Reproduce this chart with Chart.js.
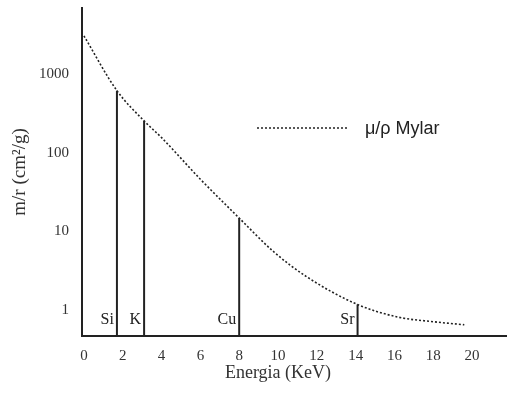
<!DOCTYPE html>
<html>
<head>
<meta charset="utf-8">
<script src="https://cdn.jsdelivr.net/npm/chart.js@4/dist/chart.umd.min.js"></script>
<style>
  html, body { margin: 0; padding: 0; background: #fff; }
  #wrap { width: 507px; height: 395px; position: relative; }
</style>
</head>
<body>
<div id="wrap"><canvas id="muChart"></canvas></div>
<script>
// mass attenuation of Mylar vs energy
const energy = [0, 1.7, 3.1, 4, 6, 8, 9.8, 11.5, 14.1, 16.2, 18, 19.6];
const muRho = [3100, 620, 255, 156, 46, 14.7, 5.4, 2.6, 1.16, 0.80, 0.70, 0.64];

// emission lines
const elements = ['Si', 'K', 'Cu', 'Sr'];
const lineEnergy = [1.7, 3.1, 8.0, 14.1];
const lineTop = [620, 255, 14.7, 1.16];

const xTicks = [0, 2, 4, 6, 8, 10, 12, 14, 16, 18, 20];
const yTicks = [1, 10, 100, 1000];

const yMin = 0.46, yMax = 7030;
const ink = '#222';
const serif = '"Liberation Serif", "DejaVu Serif", serif';

const curve = {
  label: 'μ/ρ Mylar',
  data: energy.map((e, i) => ({ x: e, y: muRho[i] })),
  borderColor: ink,
  borderWidth: 1.6,
  borderDash: [2, 2],
  pointRadius: 0,
  cubicInterpolationMode: 'monotone',
  fill: false
};

const lines = elements.map((el, i) => ({
  label: el,
  data: [{ x: lineEnergy[i], y: yMin }, { x: lineEnergy[i], y: lineTop[i] }],
  borderColor: ink,
  borderWidth: 2,
  pointRadius: 0,
  fill: false
}));

const annotate = {
  id: 'annotate',
  afterDatasetsDraw(chart) {
    const { ctx, chartArea, scales: { x } } = chart;
    ctx.save();
    // element labels, left of each line
    ctx.fillStyle = ink;
    ctx.font = '16px ' + serif;
    ctx.textAlign = 'right';
    ctx.textBaseline = 'middle';
    elements.forEach((el, i) => {
      ctx.fillText(el, x.getPixelForValue(lineEnergy[i]) - 3, chartArea.bottom - 16);
    });
    // x axis title
    ctx.textAlign = 'center';
    ctx.font = '18px ' + serif;
    ctx.fillStyle = '#333';
    ctx.fillText('Energia (KeV)', x.getPixelForValue(10), 373);
    // legend
    ctx.strokeStyle = ink;
    ctx.lineWidth = 1.6;
    ctx.setLineDash([2, 2]);
    ctx.beginPath();
    ctx.moveTo(257, 128);
    ctx.lineTo(348, 128);
    ctx.stroke();
    ctx.setLineDash([]);
    ctx.fillStyle = ink;
    ctx.textAlign = 'left';
    ctx.font = '18px "Liberation Sans", Arial, sans-serif';
    ctx.fillText(curve.label, 365, 129);
    ctx.restore();
  }
};

new Chart(document.getElementById('muChart').getContext('2d'), {
  type: 'line',
  data: { datasets: [curve, ...lines] },
  options: {
    responsive: true,
    maintainAspectRatio: false,
    animation: false,
    layout: { padding: { top: 8, right: 0, left: 0, bottom: 0 } },
    plugins: { legend: { display: false }, tooltip: { enabled: false } },
    scales: {
      x: {
        type: 'linear',
        min: -0.1,
        max: 21.8,
        afterBuildTicks: s => { s.ticks = xTicks.map(v => ({ value: v })); },
        afterFit: s => { s.height = 59; s.paddingLeft = 0; s.paddingRight = 0; },
        grid: { display: true, color: 'transparent', drawTicks: false },
        border: { display: true, color: ink, width: 2 },
        ticks: { color: '#333', padding: 11, maxRotation: 0, font: { family: serif, size: 15 } }
      },
      y: {
        type: 'logarithmic',
        min: yMin,
        max: yMax,
        afterBuildTicks: s => { s.ticks = yTicks.map(v => ({ value: v })); },
        afterFit: s => { s.width = 82; s.paddingTop = 0; s.paddingBottom = 0; },
        grid: { display: true, color: 'transparent', drawTicks: false },
        border: { display: true, color: ink, width: 2 },
        ticks: { color: '#333', padding: 13, font: { family: serif, size: 15 }, callback: v => String(v) },
        title: {
          display: true,
          text: 'm/r (cm²/g)',
          color: '#333',
          font: { family: serif, size: 19 },
          padding: { top: 9, bottom: 0 }
        }
      }
    }
  },
  plugins: [annotate]
});
</script>
</body>
</html>
